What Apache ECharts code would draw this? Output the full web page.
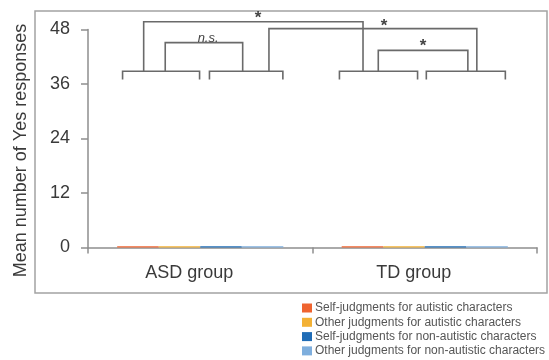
<!DOCTYPE html>
<html>
<head>
<meta charset="utf-8">
<script src="https://cdn.jsdelivr.net/npm/echarts@6/dist/echarts.min.js"></script>
<style>
html,body{margin:0;padding:0;background:#fff;}
#chart{width:549px;height:360px;}
</style>
</head>
<body>
<div id="chart"></div>
<script>
// ---- data ----
const categories = ['ASD group', 'TD group'];
const seriesNames = [
  'Self-judgments for autistic characters',
  'Other judgments for autistic characters',
  'Self-judgments for non-autistic characters',
  'Other judgments for non-autistic characters'
];
const selfAutistic = [0.3, 0.3];
const otherAutistic = [0.3, 0.3];
const selfNonAutistic = [0.3, 0.3];
const otherNonAutistic = [0.3, 0.3];
const yTicks = [0, 12, 24, 36, 48];

// significance brackets (x in group units 0..2, y in response units)
const pairX1 = [0.154, 0.541, 1.120, 1.507];
const pairX2 = [0.497, 0.868, 1.468, 1.859];
const pairTop = [38.8, 38.8, 38.8, 38.8];
const pairLeg = [37.0, 37.0, 37.0, 37.0];
const compX1 = [0.344, 0.248, 0.806, 1.293];
const compX2 = [0.689, 1.225, 1.732, 1.692];
const compTop = [45.1, 49.7, 48.2, 43.4];
const compLeg = [38.8, 38.8, 38.8, 38.8];
const compLabels = ['n.s.', '*', '*', '*'];
const compLabelX = [0.535, 0.757, 1.319, 1.492];
const compLabelY = [46.1, 51.3, 49.6, 45.2];

const colors = ['#ef6430', '#f3b134', '#1f6cb6', '#7eaedd'];
const seriesValues = [selfAutistic, otherAutistic, selfNonAutistic, otherNonAutistic];

const chart = echarts.init(document.getElementById('chart'), null, {renderer: 'canvas'});

const bracketData = [];
for (let i = 0; i < pairX1.length; i++) bracketData.push([pairX1[i], pairX2[i], pairTop[i], pairLeg[i], pairLeg[i]]);
for (let i = 0; i < compX1.length; i++) bracketData.push([compX1[i], compX2[i], compTop[i], compLeg[i], compLeg[i]]);
const labelData = compLabels.map((t, i) => [compLabelX[i], compLabelY[i], t]);

const barSeries = seriesNames.map((n, i) => ({
  name: n, type: 'bar', xAxisIndex: 0, yAxisIndex: 0,
  data: seriesValues[i], barGap: '0%', barCategoryGap: '26%',
  itemStyle: {color: colors[i]}, silent: true
}));

const option = {
  animation: false,
  textStyle: {fontFamily: 'Liberation Sans, Arial, sans-serif'},
  color: colors,
  grid: {left: 88, right: 12, top: 29.5, bottom: 112.5, containLabel: false},
  graphic: [{
    type: 'rect', shape: {x: 35, y: 11, width: 512, height: 282},
    style: {fill: null, stroke: '#a3a3a3', lineWidth: 1.5}, z: -1
  }],
  legend: {
    orient: 'vertical', left: 302, top: 302, padding: 0, height: 60,
    itemWidth: 10, itemHeight: 9, itemGap: 2.3,
    icon: 'rect',
    textStyle: {fontSize: 12, color: '#555', fontFamily: 'Liberation Sans, Arial, sans-serif', padding: [0,0,0,-2]},
    data: seriesNames
  },
  xAxis: [{
    type: 'category', data: categories,
    axisLine: {lineStyle: {color: '#8e8e8e', width: 1.5}},
    axisTick: {show: true, length: 6, lineStyle: {color: '#8e8e8e', width: 1.5}},
    axisLabel: {fontSize: 18, color: '#3a3a3a', margin: 17, padding: [0, 22, 0, 0]},
    splitLine: {show: false}
  }, {
    type: 'value', min: 0, max: 2, show: false
  }],
  yAxis: [{
    type: 'value', min: yTicks[0], max: yTicks[yTicks.length - 1], interval: 12,
    name: 'Mean number of Yes responses', nameLocation: 'middle', nameGap: 58,
    nameTextStyle: {fontSize: 18, color: '#3a3a3a', padding: [0, 24, 0, 0]},
    axisLine: {show: true, lineStyle: {color: '#8e8e8e', width: 1.5}},
    axisTick: {show: true, length: 7, lineStyle: {color: '#8e8e8e', width: 1.5}},
    axisLabel: {fontSize: 18, color: '#3a3a3a', margin: 18},
    splitLine: {show: false}
  }],
  series: barSeries.concat([{
    type: 'custom', xAxisIndex: 1, yAxisIndex: 0, clip: false, silent: true,
    data: bracketData,
    renderItem: function (params, api) {
      const b1 = api.coord([api.value(0), api.value(3)]);
      const p1 = api.coord([api.value(0), api.value(2)]);
      const p2 = api.coord([api.value(1), api.value(2)]);
      const b2 = api.coord([api.value(1), api.value(4)]);
      return {type: 'polyline', shape: {points: [b1, p1, p2, b2]},
        style: {stroke: '#6a6a6a', lineWidth: 1.6, fill: null}};
    }
  }, {
    type: 'custom', xAxisIndex: 1, yAxisIndex: 0, clip: false, silent: true,
    data: labelData,
    renderItem: function (params, api) {
      const p = api.coord([api.value(0), api.value(1)]);
      const t = labelData[params.dataIndex][2];
      const star = t === '*';
      return {type: 'text', x: p[0], y: p[1] + (star ? 4 : 0),
        style: {text: t, align: 'center', verticalAlign: 'middle',
          font: star ? 'bold 17px Liberation Sans, Arial, sans-serif' : 'italic 13px Liberation Sans, Arial, sans-serif',
          fill: '#444'}};
    }
  }])
};
chart.setOption(option);
</script>
</body>
</html>
